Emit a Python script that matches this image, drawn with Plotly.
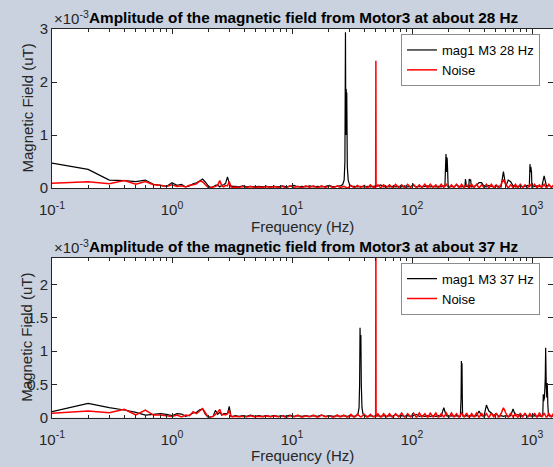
import plotly.graph_objects as go

W, H = 553, 467
FONT = "Liberation Sans, Arial, Helvetica, sans-serif"
AX = "#262626"
BG = "#c9d2de"

# ---------------- data (amplitudes in units of 1e-3 uT) ----------------
low_f = [0.1, 0.2, 0.3, 0.4, 0.5, 0.6, 0.7, 0.8, 0.9, 1.0,
         1.1, 1.2, 1.3, 1.4, 1.5, 1.6, 1.7, 1.8, 1.9, 2.0,
         2.1, 2.2, 2.3, 2.4, 2.5, 2.6, 2.7, 2.8, 2.9, 3.0,
         3.1, 3.2]

floor_f = [3.4, 3.6, 3.9, 4.2, 4.5, 4.9, 5.3, 5.7, 6.1, 6.6,
           7.1, 7.7, 8.3, 8.9, 9.6, 10.4, 11.2, 12.1, 13.0, 14.0,
           15.1, 16.3, 17.6, 19.0, 20.5, 22.1, 23.8, 25.2, 27.0, 29.0,
           31.0, 33.0, 35.0, 37.5, 40.0, 42.5, 45.0, 47.5, 52.0, 55.0,
           58.0, 61.5, 65.0, 69.0, 73.0, 77.5, 82.0, 87.0, 92.0, 97.5,
           103, 109, 115, 121, 128, 135, 142, 150, 158, 166,
           175, 184, 193, 203, 213, 224, 235, 247, 259, 272,
           285, 299, 314, 329, 345, 362, 380, 398, 417, 437,
           458, 480, 503, 527, 552, 578, 605, 634, 664, 695,
           728, 762, 798, 836, 875, 916, 959, 1004, 1051, 1100,
           1152, 1206, 1262, 1321, 1383, 1448, 1516]

# --- top chart: Motor3 at about 28 Hz ---
top_black_low = [0.47, 0.35, 0.15, 0.14, 0.12, 0.15, 0.07, 0.05, 0.03, 0.10,
                 0.05, 0.07, 0.02, 0.04, 0.08, 0.10, 0.13, 0.17, 0.11, 0.04,
                 0.01, 0.02, 0.05, 0.06, 0.02, 0.05, 0.06, 0.09, 0.21, 0.09,
                 0.04, 0.03]
top_red_low = [0.09, 0.12, 0.08, 0.14, 0.07, 0.12, 0.06, 0.05, 0.03, 0.06,
               0.03, 0.04, 0.02, 0.05, 0.06, 0.08, 0.13, 0.12, 0.06, 0.01,
               0.01, 0.02, 0.03, 0.05, 0.14, 0.04, 0.02, 0.05, 0.04, 0.12,
               0.02, 0.01]
top_black_floor = [0.03, 0.02, 0.04, 0.02, 0.03, 0.02, 0.03, 0.02, 0.03, 0.02,
                   0.03, 0.02, 0.04, 0.02, 0.03, 0.05, 0.02, 0.03, 0.02, 0.04,
                   0.02, 0.03, 0.02, 0.03, 0.05, 0.02, 0.03, 0.04, 0.07, 0.10,
                   0.04, 0.03, 0.02, 0.03, 0.02, 0.03, 0.02, 0.03, 0.04, 0.06,
                   0.02, 0.03, 0.02, 0.03, 0.02, 0.03, 0.02, 0.04, 0.02, 0.03,
                   0.05, 0.02, 0.03, 0.02, 0.03, 0.04, 0.02, 0.03, 0.02, 0.03,
                   0.02, 0.04, 0.05, 0.02, 0.03, 0.02, 0.06, 0.03, 0.02, 0.03,
                   0.04, 0.03, 0.02, 0.03, 0.05, 0.10, 0.10, 0.03, 0.02, 0.05,
                   0.03, 0.02, 0.04, 0.03, 0.02, 0.31, 0.03, 0.15, 0.12, 0.04,
                   0.02, 0.03, 0.04, 0.02, 0.03, 0.05, 0.03, 0.02, 0.03, 0.04,
                   0.03, 0.02, 0.23, 0.03, 0.05, 0.02, 0.03]
top_red_floor = [0.02, 0.01, 0.03, 0.01, 0.03, 0.01, 0.02, 0.01, 0.03, 0.01,
                 0.03, 0.01, 0.03, 0.00, 0.04, 0.01, 0.03, 0.00, 0.04, 0.01,
                 0.04, 0.00, 0.04, 0.01, 0.04, 0.00, 0.04, 0.01, 0.03, 0.00,
                 0.05, 0.00, 0.05, 0.01, 0.05, 0.00, 0.06, 0.01, 0.06, 0.00,
                 0.06, 0.01, 0.06, 0.00, 0.07, 0.01, 0.06, 0.00, 0.07, 0.01,
                 0.07, 0.00, 0.06, 0.01, 0.07, 0.00, 0.07, 0.01, 0.06, 0.00,
                 0.07, 0.01, 0.07, 0.00, 0.06, 0.01, 0.07, 0.00, 0.07, 0.01,
                 0.06, 0.00, 0.07, 0.01, 0.07, 0.00, 0.06, 0.01, 0.07, 0.00,
                 0.07, 0.01, 0.06, 0.00, 0.07, 0.16, 0.07, 0.00, 0.06, 0.01,
                 0.07, 0.00, 0.07, 0.01, 0.06, 0.00, 0.07, 0.01, 0.07, 0.00,
                 0.06, 0.01, 0.07, 0.00, 0.07, 0.01, 0.06]
top_black_peak_f = [
    [25.5, 26.5, 27.2, 27.6, 27.9, 28.1, 28.3, 28.45, 28.6, 28.9, 29.4, 30.2, 31.5],
    [188, 191, 192, 193.5, 195, 196.5, 198, 200],
    [276, 279, 281, 284],
    [297, 300, 304, 308, 312],
    [950, 962, 970, 978, 990, 998],
]
top_black_peak_a = [
    [0.04, 0.07, 0.15, 0.5, 2.94, 1.0, 1.87, 1.0, 1.8, 0.4, 0.15, 0.06, 0.03],
    [0.03, 0.5, 0.64, 0.3, 0.58, 0.54, 0.35, 0.03],
    [0.02, 0.17, 0.12, 0.02],
    [0.02, 0.17, 0.14, 0.16, 0.02],
    [0.03, 0.45, 0.3, 0.40, 0.3, 0.03],
]
top_red_peak_f = [[49.8, 50.0, 50.2]]
top_red_peak_a = [[0.02, 2.40, 0.02]]

# --- bottom chart: Motor3 at about 37 Hz ---
bot_black_low = [0.09, 0.215, 0.15, 0.115, 0.08, 0.04, 0.05, 0.06, 0.05, 0.03,
                 0.06, 0.055, 0.02, 0.04, 0.07, 0.08, 0.12, 0.13, 0.05, 0.01,
                 0.01, 0.02, 0.11, 0.05, 0.08, 0.04, 0.06, 0.06, 0.06, 0.17,
                 0.02, 0.02]
bot_red_low = [0.065, 0.10, 0.075, 0.125, 0.04, 0.115, 0.04, 0.04, 0.03, 0.02,
               0.04, 0.01, 0.04, 0.03, 0.09, 0.06, 0.10, 0.135, 0.07, 0.01,
               0.01, 0.02, 0.05, 0.08, 0.125, 0.04, 0.05, 0.04, 0.06, 0.11,
               0.02, 0.01]
bot_black_floor = [0.03, 0.02, 0.03, 0.02, 0.04, 0.02, 0.03, 0.02, 0.03, 0.02,
                   0.03, 0.02, 0.03, 0.02, 0.04, 0.02, 0.03, 0.02, 0.03, 0.02,
                   0.03, 0.02, 0.04, 0.02, 0.03, 0.02, 0.03, 0.02, 0.03, 0.02,
                   0.03, 0.02, 0.03, 0.05, 0.03, 0.02, 0.03, 0.02, 0.03, 0.02,
                   0.03, 0.02, 0.03, 0.02, 0.05, 0.02, 0.03, 0.02, 0.03, 0.02,
                   0.03, 0.05, 0.02, 0.03, 0.02, 0.03, 0.02, 0.03, 0.02, 0.03,
                   0.02, 0.15, 0.03, 0.02, 0.03, 0.02, 0.03, 0.02, 0.03, 0.02,
                   0.03, 0.02, 0.03, 0.02, 0.03, 0.10, 0.03, 0.02, 0.19, 0.10,
                   0.07, 0.03, 0.06, 0.02, 0.03, 0.02, 0.03, 0.02, 0.03, 0.13,
                   0.03, 0.05, 0.02, 0.03, 0.05, 0.02, 0.03, 0.02, 0.03, 0.02,
                   0.03, 0.02, 0.03, 0.02, 0.03, 0.02, 0.03]
bot_red_floor = [0.02, 0.01, 0.02, 0.01, 0.03, 0.01, 0.02, 0.01, 0.03, 0.01,
                 0.03, 0.01, 0.03, 0.00, 0.03, 0.01, 0.04, 0.00, 0.03, 0.01,
                 0.04, 0.00, 0.04, 0.01, 0.03, 0.00, 0.04, 0.01, 0.04, 0.00,
                 0.05, 0.00, 0.05, 0.01, 0.05, 0.00, 0.05, 0.01, 0.06, 0.00,
                 0.06, 0.01, 0.06, 0.00, 0.06, 0.01, 0.07, 0.00, 0.06, 0.01,
                 0.07, 0.00, 0.07, 0.01, 0.06, 0.00, 0.07, 0.01, 0.07, 0.00,
                 0.06, 0.01, 0.07, 0.00, 0.07, 0.01, 0.06, 0.00, 0.07, 0.01,
                 0.07, 0.00, 0.06, 0.01, 0.07, 0.00, 0.07, 0.01, 0.06, 0.00,
                 0.07, 0.01, 0.07, 0.00, 0.06, 0.15, 0.07, 0.00, 0.07, 0.01,
                 0.06, 0.00, 0.07, 0.01, 0.07, 0.00, 0.06, 0.01, 0.07, 0.00,
                 0.075, 0.01, 0.07, 0.00, 0.06, 0.01, 0.07]
bot_black_peak_f = [
    [34.5, 35.5, 36.2, 36.6, 36.9, 37.2, 37.5, 37.8, 38.3, 39.0, 40.0],
    [253, 256.5, 258, 259.5, 261, 262.5, 264, 267],
    [1230, 1242, 1250, 1270, 1290, 1300, 1315, 1330, 1340, 1355, 1370],
]
bot_black_peak_a = [
    [0.03, 0.06, 0.15, 0.5, 1.35, 0.95, 1.24, 0.5, 0.15, 0.06, 0.03],
    [0.02, 0.3, 0.85, 0.4, 0.815, 0.3, 0.05, 0.02],
    [0.03, 0.35, 0.25, 0.3, 0.6, 1.05, 0.45, 0.3, 0.52, 0.2, 0.04],
]
bot_red_peak_f = [[49.8, 50.0, 50.2]]
bot_red_peak_a = [[0.02, 2.6, 0.02]]

titles = ["Amplitude of the magnetic field from Motor3 at about 28 Hz",
          "Amplitude of the magnetic field from Motor3 at about 37 Hz"]
names_black = ["mag1 M3 28 Hz", "mag1 M3 37 Hz"]
name_red = "Noise"

x_tick_vals = [0.1, 1, 10, 100, 1000]
x_tick_text = ["10<sup>-1</sup>", "10<sup>0</sup>", "10<sup>1</sup>",
               "10<sup>2</sup>", "10<sup>3</sup>"]
x_minor_vals = [0.2, 0.3, 0.4, 0.5, 0.6, 0.7, 0.8, 0.9,
                2, 3, 4, 5, 6, 7, 8, 9,
                20, 30, 40, 50, 60, 70, 80, 90,
                200, 300, 400, 500, 600, 700, 800, 900]
top_y_ticks = [0, 1, 2, 3]
top_y_text = ["0", "1", "2", "3"]
bot_y_ticks = [0, 0.5, 1, 1.5, 2]
bot_y_text = ["0", "0.5", "1", "1.5", "2"]


def build(low_a, floor_a, peak_f, peak_a):
    assert len(low_a) == len(low_f) and len(floor_a) == len(floor_f)
    pts = list(zip(low_f, low_a))
    spans = [(min(g), max(g)) for g in peak_f]
    for f, a in zip(floor_f, floor_a):
        if not any(lo <= f <= hi for lo, hi in spans):
            pts.append((f, a))
    for gf, ga in zip(peak_f, peak_a):
        pts.extend(zip(gf, ga))
    pts.sort()
    return [p[0] for p in pts], [p[1] for p in pts]


series = [
    (build(top_black_low, top_black_floor, top_black_peak_f, top_black_peak_a),
     build(top_red_low, top_red_floor, top_red_peak_f, top_red_peak_a)),
    (build(bot_black_low, bot_black_floor, bot_black_peak_f, bot_black_peak_a),
     build(bot_red_low, bot_red_floor, bot_red_peak_f, bot_red_peak_a)),
]

# ---------------- layout geometry (pixels) ----------------
X0 = 52
axes_px = [(29, 188), (257.7, 417.7)]   # (top, bottom) of each axes box
yranges = [[0, 3], [0, 2.4]]
yticks = [(top_y_ticks, top_y_text), (bot_y_ticks, bot_y_text)]


def py(v):
    return 1 - v / H


fig = go.Figure()
layout = dict(width=W, height=H, autosize=False,
              margin=dict(l=0, r=0, t=0, b=0, pad=0),
              paper_bgcolor=BG, plot_bgcolor="white",
              font=dict(family=FONT, color=AX, size=15),
              annotations=[])

for i in range(2):
    sfx = "" if i == 0 else str(i + 1)
    (bx, by), (rx, ry) = series[i]
    leg = "legend" if i == 0 else "legend2"
    fig.add_trace(go.Scatter(x=bx, y=by, mode="lines", name=names_black[i],
                             line=dict(color="black", width=1.2, simplify=False),
                             xaxis="x" + sfx, yaxis="y" + sfx, legend=leg))
    fig.add_trace(go.Scatter(x=rx, y=ry, mode="lines", name=name_red,
                             line=dict(color="#ff0000", width=1.5, simplify=False),
                             xaxis="x" + sfx, yaxis="y" + sfx, legend=leg))
    top, bot = axes_px[i]
    layout["xaxis" + sfx] = dict(
        type="log", range=[-1, 3.175], domain=[X0 / W, 1], anchor="y" + sfx,
        automargin=False,
        tickmode="array", tickvals=x_tick_vals, ticktext=x_tick_text,
        ticks="inside", ticklen=5, tickwidth=1, tickcolor=AX,
        ticklabelstandoff=8,
        showline=True, linecolor=AX, linewidth=1, mirror="ticks",
        showgrid=False, zeroline=False,
        tickfont=dict(family=FONT, size=15, color=AX),
        minor=dict(tickmode="array", tickvals=x_minor_vals, ticks="inside",
                   ticklen=3, tickwidth=1, tickcolor=AX, showgrid=False))
    layout["yaxis" + sfx] = dict(
        range=yranges[i], domain=[py(bot), py(top)], anchor="x" + sfx,
        automargin=False,
        tickmode="array", tickvals=yticks[i][0], ticktext=yticks[i][1],
        ticks="inside", ticklen=5, tickwidth=1, tickcolor=AX,
        showline=True, linecolor=AX, linewidth=1, mirror="ticks",
        showgrid=False, zeroline=False,
        tickfont=dict(family=FONT, size=15, color=AX))
    legend_cfg = dict(x=540 / W, y=py(top + 5), xanchor="right", yanchor="top",
                      bgcolor="white", bordercolor="#8c8c8c", borderwidth=1,
                      font=dict(family=FONT, size=13, color="black"),
                      tracegroupgap=0)
    layout[leg] = legend_cfg
    cx = (X0 + W) / 2 / W
    layout["annotations"] += [
        dict(text="<b>" + titles[i] + "</b>", x=cx + 1 / W, y=py(top - 11.5),
             xref="paper", yref="paper", xanchor="center", yanchor="middle",
             showarrow=False, font=dict(family=FONT, size=15.3, color="black")),
        dict(text="\u00d710<sup>-3</sup>", x=X0 / W, y=py(top - 11),
             xref="paper", yref="paper", xanchor="left", yanchor="middle",
             showarrow=False, font=dict(family=FONT, size=15, color=AX)),
        dict(text="Frequency (Hz)", x=cx, y=py(bot + 38),
             xref="paper", yref="paper", xanchor="center", yanchor="middle",
             showarrow=False, font=dict(family=FONT, size=15, color=AX)),
        dict(text="Magnetic Field (uT)", x=27 / W, y=py((top + bot) / 2),
             xref="paper", yref="paper", xanchor="center", yanchor="middle",
             textangle=-90, showarrow=False,
             font=dict(family=FONT, size=15, color=AX)),
    ]

fig.update_layout(**layout)
fig.write_html("out.html",
               config={"displayModeBar": False},
               post_script="document.body.style.margin='0';"
                           "document.body.style.overflow='hidden';")
